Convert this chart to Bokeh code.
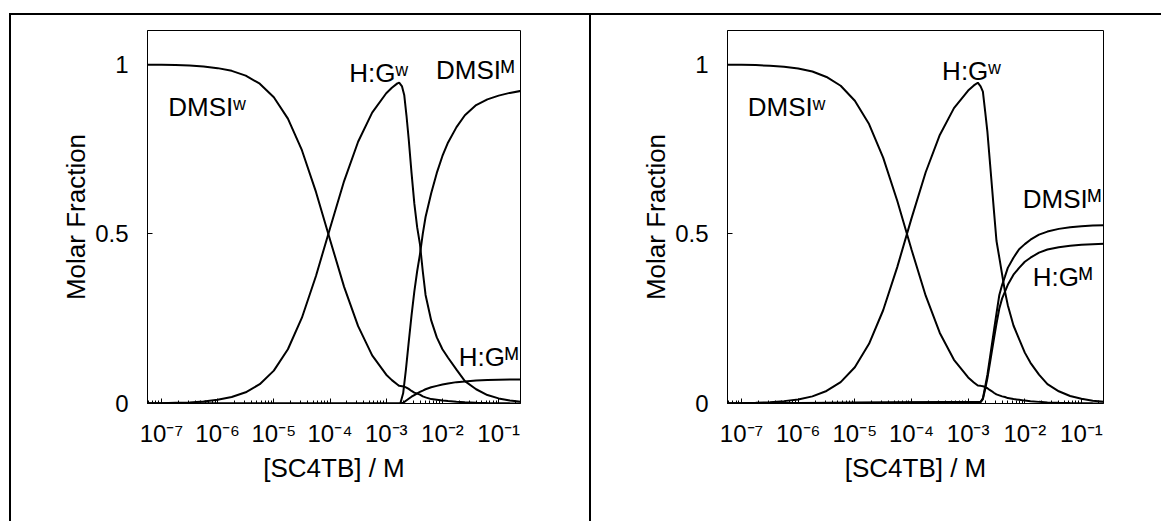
from bokeh.plotting import figure
from bokeh.layouts import row
from bokeh.models import FixedTicker, Range1d, ColumnDataSource
from bokeh.core.properties import value
from bokeh.embed import file_html
from bokeh.resources import INLINE

FONT = "Liberation Sans"

# ---------------- axis ticks / labels ----------------
x_ticks = [1e-7, 1e-6, 1e-5, 1e-4, 1e-3, 1e-2, 1e-1]
x_tick_labels = ["10⁻⁷", "10⁻⁶", "10⁻⁵", "10⁻⁴", "10⁻³", "10⁻²", "10⁻¹"]
y_ticks = [0, 0.5, 1]
y_tick_labels = ["0", "0.5", "1"]
x_title = "[SC4TB] / M"
y_title = "Molar Fraction"

# ---------------- left panel data ----------------
conc_w_a = [5.62e-8, 1.0e-7, 1.78e-7, 3.16e-7, 5.62e-7, 1.0e-6, 1.78e-6, 3.16e-6, 5.62e-6,
            1.0e-5, 1.78e-5, 3.16e-5, 5.62e-5, 1.0e-4, 1.78e-4, 3.16e-4, 5.62e-4, 1.0e-3,
            1.26e-3, 1.58e-3, 1.70e-3, 1.91e-3, 2.09e-3, 2.29e-3, 2.51e-3, 2.82e-3, 3.16e-3,
            3.55e-3, 3.98e-3, 4.47e-3, 5.01e-3, 6.31e-3, 7.94e-3, 1.0e-2, 1.26e-2, 1.78e-2,
            2.51e-2, 3.98e-2, 6.31e-2, 1.0e-1, 1.58e-1, 2.51e-1]
dmsi_w_a = [0.999, 0.999, 0.998, 0.997, 0.994, 0.989, 0.981, 0.967, 0.943, 0.903, 0.840,
            0.747, 0.624, 0.483, 0.344, 0.228, 0.142, 0.085, 0.069, 0.056, 0.052, 0.051,
            0.050, 0.047, 0.043, 0.037, 0.032, 0.029, 0.026, 0.021, 0.018, 0.013, 0.011,
            0.009, 0.0075, 0.0055, 0.0036, 0.0023, 0.0014, 0.0008, 0.0005, 0.0003]
hg_w_a = [0.001, 0.001, 0.002, 0.003, 0.006, 0.011, 0.019, 0.033, 0.057, 0.097, 0.160,
          0.253, 0.376, 0.517, 0.656, 0.772, 0.858, 0.915, 0.931, 0.944, 0.946, 0.935,
          0.91, 0.85, 0.78, 0.68, 0.59, 0.52, 0.47, 0.39, 0.32, 0.245, 0.195, 0.16,
          0.135, 0.10, 0.066, 0.042, 0.025, 0.015, 0.009, 0.005]
conc_m_a = [5.62e-8, 1.78e-3, 2.0e-3, 2.24e-3, 2.51e-3, 2.82e-3, 3.16e-3, 3.55e-3, 3.98e-3,
            4.47e-3, 5.01e-3, 6.31e-3, 7.94e-3, 1.0e-2, 1.26e-2, 1.78e-2, 2.51e-2, 3.98e-2,
            6.31e-2, 1.0e-1, 1.58e-1, 2.51e-1]
dmsi_m_a = [0, 0, 0.03, 0.10, 0.18, 0.26, 0.33, 0.39, 0.44, 0.50, 0.55, 0.62, 0.68, 0.73,
            0.77, 0.815, 0.85, 0.88, 0.897, 0.908, 0.916, 0.922]
hg_m_a = [0, 0, 0.002, 0.008, 0.014, 0.02, 0.025, 0.03, 0.034, 0.038, 0.042, 0.048, 0.052,
          0.056, 0.059, 0.063, 0.065, 0.068, 0.069, 0.070, 0.0705, 0.071]

# ---------------- right panel data ----------------
conc_w_b = [5.62e-8, 1.0e-7, 1.78e-7, 3.16e-7, 5.62e-7, 1.0e-6, 1.78e-6, 3.16e-6, 5.62e-6,
            1.0e-5, 1.78e-5, 3.16e-5, 5.62e-5, 1.0e-4, 1.78e-4, 3.16e-4, 5.62e-4, 1.0e-3,
            1.26e-3, 1.48e-3, 1.66e-3, 1.82e-3, 2.0e-3, 2.19e-3, 2.40e-3, 2.63e-3, 2.88e-3,
            3.16e-3, 3.55e-3, 3.98e-3, 4.47e-3, 5.01e-3, 6.31e-3, 7.94e-3, 1.0e-2, 1.26e-2,
            1.78e-2, 2.51e-2, 3.98e-2, 6.31e-2, 1.0e-1, 1.58e-1, 2.51e-1]
dmsi_w_b = [0.999, 0.999, 0.998, 0.996, 0.993, 0.988, 0.979, 0.963, 0.937, 0.893, 0.824,
            0.725, 0.597, 0.454, 0.318, 0.208, 0.129, 0.077, 0.062, 0.053, 0.052, 0.051,
            0.048, 0.045, 0.040, 0.036, 0.031, 0.027, 0.024, 0.021, 0.019, 0.016, 0.013,
            0.011, 0.0085, 0.0068, 0.0048, 0.0032, 0.002, 0.0012, 0.0008, 0.0005, 0.0003]
hg_w_b = [0.001, 0.001, 0.002, 0.004, 0.007, 0.012, 0.021, 0.037, 0.063, 0.107, 0.176,
          0.275, 0.403, 0.546, 0.682, 0.792, 0.871, 0.923, 0.938, 0.946, 0.935, 0.92,
          0.86, 0.80, 0.72, 0.64, 0.56, 0.48, 0.43, 0.38, 0.33, 0.29, 0.23, 0.19, 0.15,
          0.12, 0.085, 0.057, 0.036, 0.022, 0.014, 0.008, 0.005]
conc_m_b = [5.62e-8, 1.66e-3, 1.82e-3, 2.0e-3, 2.19e-3, 2.40e-3, 2.63e-3, 2.88e-3, 3.16e-3,
            3.55e-3, 3.98e-3, 4.47e-3, 5.01e-3, 6.31e-3, 7.94e-3, 1.0e-2, 1.26e-2, 1.78e-2,
            2.51e-2, 3.98e-2, 6.31e-2, 1.0e-1, 1.58e-1, 2.51e-1]
dmsi_m_b = [0, 0.005, 0.015, 0.05, 0.085, 0.13, 0.175, 0.22, 0.265, 0.32, 0.35, 0.375,
            0.40, 0.43, 0.455, 0.47, 0.483, 0.498, 0.507, 0.515, 0.52, 0.523, 0.525, 0.526]
hg_m_b = [0, 0.004, 0.013, 0.043, 0.075, 0.115, 0.155, 0.195, 0.235, 0.28, 0.31, 0.33,
          0.35, 0.38, 0.40, 0.418, 0.43, 0.445, 0.454, 0.461, 0.465, 0.468, 0.47, 0.471]

# ---------------- curve labels ----------------
lab_text_a = ["DMSIʷ", "H:Gʷ", "DMSIᴹ", "H:Gᴹ"]
lab_x_a = [1.32e-7, 2.19e-4, 7.67e-3, 1.95e-2]
lab_y_a = [0.874, 0.974, 0.983, 0.136]
lab_text_b = ["DMSIʷ", "H:Gʷ", "DMSIᴹ", "H:Gᴹ"]
lab_x_b = [1.29e-7, 3.47e-4, 9.2e-3, 1.38e-2]
lab_y_b = [0.875, 0.98, 0.602, 0.373]

X_START, X_END = 5.65e-8, 0.245
minor = [m * 10.0 ** e for e in range(-8, 0) for m in range(2, 10)]


def make_panel(width, height, mbl, mbr, mbt, mbb, series, labels):
    p = figure(width=width, height=height, x_axis_type="log",
               x_range=Range1d(X_START, X_END), y_range=Range1d(0, 1.1),
               output_backend="svg", toolbar_location=None,
               min_border_left=mbl, min_border_right=mbr,
               min_border_top=mbt, min_border_bottom=mbb)
    p.grid.visible = False
    p.outline_line_color = "black"
    p.outline_line_width = 1
    p.background_fill_color = "white"
    p.border_fill_color = "white"

    for xs, ys in series:
        p.line(xs, ys, line_color="black", line_width=2)

    tx, ty, tt = labels
    src = ColumnDataSource(dict(x=tx, y=ty, t=tt))
    p.text(x="x", y="y", text="t", source=src, text_font=value(FONT),
           text_font_size="26px", text_color="black",
           text_align="left", text_baseline="alphabetic")

    xa = p.xaxis[0]
    xa.ticker = FixedTicker(ticks=x_ticks, minor_ticks=minor)
    xa.major_label_overrides = dict(zip(x_ticks, x_tick_labels))
    ya = p.yaxis[0]
    ya.ticker = FixedTicker(ticks=y_ticks, minor_ticks=[])
    ya.major_label_overrides = dict(zip([float(v) for v in y_ticks], y_tick_labels))
    xa.axis_label = x_title
    ya.axis_label = y_title
    for ax in (xa, ya):
        ax.axis_line_color = "black"
        ax.axis_line_width = 1
        ax.major_tick_in = 5
        ax.major_tick_out = 0
        ax.minor_tick_in = 3
        ax.minor_tick_out = 0
        ax.major_tick_line_color = "black"
        ax.minor_tick_line_color = "black"
        ax.major_label_text_font = FONT
        ax.major_label_text_color = "black"
        ax.axis_label_text_font = FONT
        ax.axis_label_text_font_size = "26px"
        ax.axis_label_text_font_style = "normal"
        ax.axis_label_text_color = "black"
    xa.major_label_text_font_size = "24px"
    ya.major_label_text_font_size = "24px"
    xa.major_label_standoff = 16
    xa.axis_label_standoff = 3
    ya.major_label_standoff = 19
    ya.axis_label_standoff = 1
    return p


p1 = make_panel(582, 508, 136, 73, 15, 120,
                [(conc_w_a, dmsi_w_a), (conc_w_a, hg_w_a),
                 (conc_m_a, dmsi_m_a), (conc_m_a, hg_m_a)],
                (lab_x_a, lab_y_a, lab_text_a))
p2 = make_panel(570, 508, 136, 58, 15, 118,
                [(conc_w_b, dmsi_w_b), (conc_w_b, hg_w_b),
                 (conc_m_b, dmsi_m_b), (conc_m_b, hg_m_b)],
                (lab_x_b, lab_y_b, lab_text_b))

p1.styles = {"border-top": "2px solid black", "border-left": "2px solid black",
             "border-right": "2px solid black", "margin-top": "13px", "margin-left": "9px"}
p2.styles = {"border-top": "2px solid black", "margin-top": "13px"}

layout = row(p1, p2)

with open("out.html", "w") as f:
    f.write(file_html(layout, INLINE))
